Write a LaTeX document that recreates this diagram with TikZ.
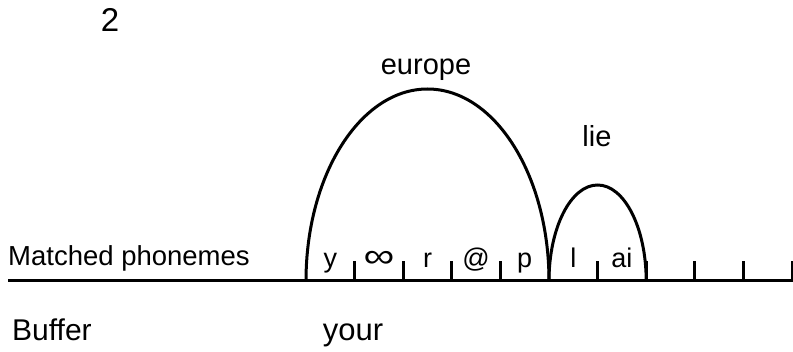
\documentclass[tikz,border=0pt]{standalone}
\usepackage{fontspec}
\setmainfont{Liberation Sans}
\usetikzlibrary{positioning, calc}

\begin{document}
\begin{tikzpicture}[
    x=1pt, y=1pt,
    rule/.style={
        draw=black,
        line width=3pt
    },
    tick/.style={
        draw=black,
        line width=2.8pt
    },
    bigtext/.style={
        font=\fontsize{29}{32}\selectfont,
        anchor=base,
        inner sep=0pt
    },
    rowtext/.style={
        font=\fontsize{27.5}{30}\selectfont,
        anchor=base west,
        inner sep=0pt
    },
    phon/.style={
        font=\fontsize{27}{30}\selectfont,
        anchor=base,
        inner sep=0pt
    }
]
\useasboundingbox (0,0) rectangle (793,351);

% Panel number
\node[bigtext, font=\fontsize{33}{36}\selectfont] (num) at (110,319) {2};

% Base line with ticks
\coordinate (L) at (8,70);
\coordinate (R) at (793,70);
\draw[rule] (L) -- (R);
\foreach \i in {0,...,10} {
    \coordinate (t\i) at ({306+48.6*\i},70);
    \draw[tick] (t\i) -- ++(0,20);
}

% Phonemes between ticks
\foreach \p [count=\i from 0] in {y,\scalebox{1.6}[1.25]{∞},r,@,p,l,ai} {
    \node[phon] (p\i) at ({306+48.6*(\i+0.5)},83) {\p};
}

% Row labels
\node[rowtext] (matched) at (8,85) {Matched phonemes};
\node[rowtext, font=\fontsize{30}{32}\selectfont] (buffer) at (12,11) {Buffer};
\node[bigtext, font=\fontsize{31}{33}\selectfont] (your) at (353,11) {your};

% Word arcs
\draw[rule] (t0) arc[start angle=180, end angle=0, x radius=121.5, y radius=192];
\draw[rule] (t5) arc[start angle=180, end angle=0, x radius=48.6, y radius=96];
\node[bigtext] (europe) at (426,276) {europe};
\node[bigtext] (lie) at (597,204) {lie};

\end{tikzpicture}
\end{document}
